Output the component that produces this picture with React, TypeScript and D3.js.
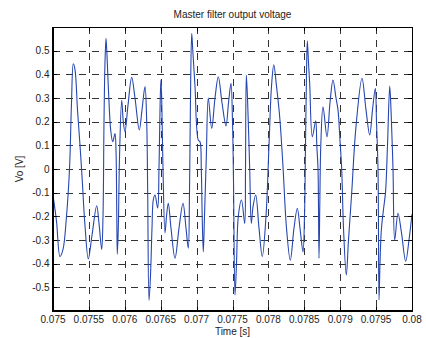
import React from 'react';
import * as d3 from 'd3';

const times = [
  0.0750042, 0.0750487, 0.0750975, 0.0751393, 0.0751880, 0.0752298, 0.0752577, 0.0752827, 0.0753064, 0.0753412,
  0.0753760, 0.0754039, 0.0754457, 0.0754916, 0.0755432, 0.0756086, 0.0756407, 0.0756783, 0.0756964, 0.0757103,
  0.0757242, 0.0757382, 0.0757521, 0.0757730, 0.0758036, 0.0758315, 0.0758635, 0.0758774, 0.0758886, 0.0758955,
  0.0759095, 0.0759262, 0.0759568, 0.0759791, 0.0760028, 0.0760446, 0.0760961, 0.0761421, 0.0762019, 0.0762396,
  0.0762813, 0.0763050, 0.0763189, 0.0763370, 0.0763579, 0.0763788, 0.0763969, 0.0764206, 0.0764582, 0.0764763,
  0.0764903, 0.0765028, 0.0765139, 0.0765320, 0.0765599, 0.0765808, 0.0766058, 0.0766435, 0.0766992, 0.0767549,
  0.0768106, 0.0768524, 0.0768844, 0.0769011, 0.0769150, 0.0769318, 0.0769471, 0.0769777, 0.0770237, 0.0770474,
  0.0770655, 0.0770780, 0.0770933, 0.0771100, 0.0771351, 0.0771630, 0.0772103, 0.0772563, 0.0773022, 0.0773538,
  0.0774095, 0.0774443, 0.0774791, 0.0775000, 0.0775139, 0.0775348, 0.0775557, 0.0775808, 0.0776254, 0.0776699,
  0.0776811, 0.0776922, 0.0777089, 0.0777396, 0.0777618, 0.0777855, 0.0778231, 0.0778691, 0.0779150, 0.0779666,
  0.0780084, 0.0780432, 0.0780752, 0.0781128, 0.0781574, 0.0782033, 0.0782521, 0.0783050, 0.0783566, 0.0784025,
  0.0784401, 0.0784819, 0.0785028, 0.0785167, 0.0785306, 0.0785418, 0.0785585, 0.0785752, 0.0786114, 0.0786588,
  0.0786741, 0.0786908, 0.0787047, 0.0787159, 0.0787298, 0.0787605, 0.0788162, 0.0788579, 0.0788997, 0.0789415,
  0.0789694, 0.0789972, 0.0790209, 0.0790460, 0.0790850, 0.0791156, 0.0791602, 0.0792201, 0.0793036, 0.0793593,
  0.0794109, 0.0794499, 0.0794889, 0.0795056, 0.0795265, 0.0795404, 0.0795543, 0.0795724, 0.0796031, 0.0796309,
  0.0796588, 0.0796895, 0.0797076, 0.0797354, 0.0797591, 0.0798050, 0.0798538, 0.0799122, 0.0799583, 0.0800000,
];

const volts = [
  -0.12, -0.22, -0.37, -0.34, -0.2, 0.0, 0.28, 0.445, 0.42, 0.25,
  0.1, -0.03, -0.24, -0.38, -0.28, -0.155, -0.23, -0.34, -0.2, 0.2,
  0.45, 0.552, 0.48, 0.33, 0.165, 0.115, 0.15, 0.08, -0.2, -0.36,
  -0.25, 0.05, 0.29, 0.2, 0.157, 0.27, 0.387, 0.3, 0.165, 0.25,
  0.348, 0.2, -0.1, -0.555, -0.45, -0.25, -0.13, -0.11, -0.165, 0.0,
  0.25, 0.376, 0.3, 0.0, -0.27, -0.2, -0.145, -0.25, -0.377, -0.25,
  -0.145, -0.25, -0.335, -0.1, 0.3, 0.573, 0.5, 0.35, 0.122, 0.115,
  0.0, -0.2, -0.35, -0.2, 0.05, 0.3, 0.172, 0.3, 0.39, 0.28,
  0.182, 0.28, 0.362, 0.2, -0.05, -0.532, -0.4, -0.2, -0.131, -0.23,
  0.0, 0.397, 0.3, 0.0, -0.23, -0.16, -0.11, -0.25, -0.37, -0.2,
  0.1, 0.35, 0.44, 0.35, 0.22, 0.01, -0.25, -0.385, -0.25, -0.166,
  -0.25, -0.35, -0.2, 0.1, 0.4, 0.542, 0.45, 0.36, 0.136, 0.204,
  0.1, 0.0, -0.377, -0.15, 0.1, 0.263, 0.136, 0.28, 0.376, 0.3,
  0.25, 0.12, 0.0, -0.25, -0.448, -0.3, -0.1, 0.18, 0.383, 0.25,
  0.144, 0.25, 0.341, 0.2, 0.0, -0.553, -0.4, -0.26, -0.17, -0.1,
  0.1, 0.35, 0.25, 0.0, -0.3, -0.187, -0.27, -0.39, -0.3, -0.19,
];

const xTicks = [0.075, 0.0755, 0.076, 0.0765, 0.077, 0.0775, 0.078, 0.0785, 0.079, 0.0795, 0.08];
const xTickLabels = ['0.075', '0.0755', '0.076', '0.0765', '0.077', '0.0775', '0.078', '0.0785', '0.079', '0.0795', '0.08'];
const yTicks = [-0.5, -0.4, -0.3, -0.2, -0.1, 0, 0.1, 0.2, 0.3, 0.4, 0.5];
const yTickLabels = ['-0.5', '-0.4', '-0.3', '-0.2', '-0.1', '0', '0.1', '0.2', '0.3', '0.4', '0.5'];

const title = 'Master filter output voltage';
const xLabel = 'Time [s]';
const yLabel = 'Vo [V]';

export default function App() {
  const W = 426;
  const H = 338;
  const L = 53, R = 412, T = 27, B = 311;
  const x = d3.scaleLinear().domain([0.075, 0.08]).range([L, R]);
  const y = d3.scaleLinear().domain([-0.6, 0.6]).range([B, T]);
  const line = d3
    .line<number>()
    .x((_, i) => x(times[i]))
    .y((d) => y(d))
    .curve(d3.curveCatmullRom.alpha(0.5));
  const font = "'Liberation Sans', Arial, sans-serif";
  const tick = 4;
  const snap = (v: number) => Math.round(v) + 0.5;

  return (
    <svg width={W} height={H} style={{ position: 'absolute', left: 0, top: 0, background: '#fff' }}>
      <rect x={0} y={0} width={W} height={H} fill="#fff" />
      {/* grid */}
      <g stroke="#000" strokeWidth={1} strokeDasharray="7,6" opacity={0.8}>
        {xTicks.slice(1, -1).map((t) => (
          <line key={'gx' + t} x1={snap(x(t))} x2={snap(x(t))} y1={T} y2={B} />
        ))}
        {yTicks.map((t) => (
          <line key={'gy' + t} x1={L} x2={R} y1={snap(y(t))} y2={snap(y(t))} />
        ))}
      </g>
      {/* data */}
      <path d={line(volts) || ''} fill="none" stroke="#2646b0" strokeWidth={1.1} />
      {/* box */}
      <g stroke="#000" fill="none">
        <line x1={L} x2={R} y1={T + 0.5} y2={T + 0.5} strokeWidth={1} />
        <line x1={R + 0.5} x2={R + 0.5} y1={T} y2={B} strokeWidth={1} />
        <line x1={L} x2={L} y1={T} y2={B + 1} strokeWidth={2} />
        <line x1={L - 1} x2={R + 1} y1={B} y2={B} strokeWidth={2} />
      </g>
      {/* ticks */}
      <g stroke="#000" strokeWidth={1}>
        {xTicks.map((t) => (
          <g key={'tx' + t}>
            <line x1={snap(x(t))} x2={snap(x(t))} y1={B} y2={B - tick} />
            <line x1={snap(x(t))} x2={snap(x(t))} y1={T} y2={T + tick} />
          </g>
        ))}
        {yTicks.map((t) => (
          <g key={'ty' + t}>
            <line x1={L} x2={L + tick} y1={snap(y(t))} y2={snap(y(t))} />
            <line x1={R} x2={R - tick} y1={snap(y(t))} y2={snap(y(t))} />
          </g>
        ))}
      </g>
      {/* tick labels */}
      <g fontFamily={font} fontSize={10} fill="#222">
        {xTicks.map((t, i) => (
          <text key={'lx' + t} x={x(t)} y={322.5} textAnchor="middle">
            {xTickLabels[i]}
          </text>
        ))}
        {yTicks.map((t, i) => (
          <text key={'ly' + t} x={49.5} y={y(t) + 3.5} textAnchor="end">
            {yTickLabels[i]}
          </text>
        ))}
        <text x={(L + R) / 2} y={17.5} textAnchor="middle">
          {title}
        </text>
        <text x={(L + R) / 2} y={335} textAnchor="middle">
          {xLabel}
        </text>
        <text transform={`translate(22.5, ${(T + B) / 2}) rotate(-90)`} textAnchor="middle">
          {yLabel}
        </text>
      </g>
    </svg>
  );
}
